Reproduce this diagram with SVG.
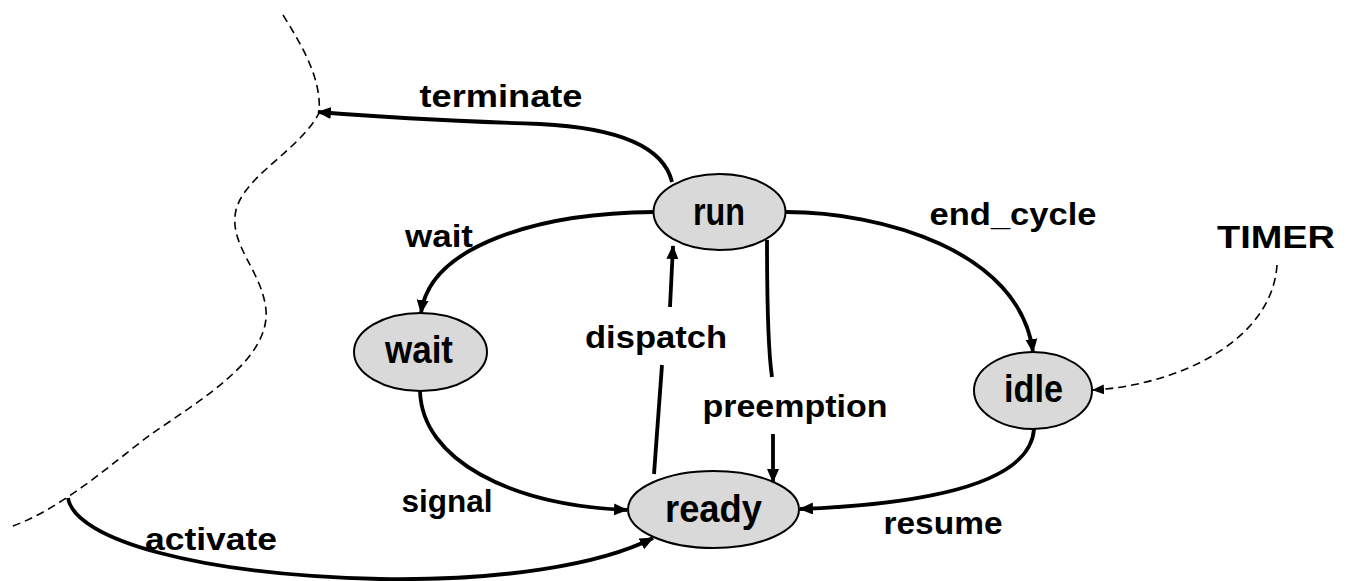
<svg xmlns="http://www.w3.org/2000/svg" width="1350" height="581" viewBox="0 0 1350 581">
<style>
.node ellipse{fill:#d9d9d9;stroke:#000;stroke-width:2}
.nl{font-family:"Liberation Sans",Arial,sans-serif;font-weight:bold;font-size:38px;fill:#000;text-anchor:middle}
.el{font-family:"Liberation Sans",Arial,sans-serif;font-weight:bold;font-size:32px;fill:#000;text-anchor:middle}
.edge{fill:none;stroke:#000;stroke-width:3.8}
.dash{fill:none;stroke:#000;stroke-width:1.6;stroke-dasharray:8 5}
</style>
<defs>
<marker id="ah" markerUnits="userSpaceOnUse" markerWidth="16" markerHeight="14" refX="13" refY="6" orient="auto">
<path d="M0,0 L14,6 L0,12 z" fill="#000"/>
</marker>
<marker id="ahs" markerUnits="userSpaceOnUse" markerWidth="14" markerHeight="12" refX="11" refY="5" orient="auto">
<path d="M0,0 L12,5 L0,10 z" fill="#000"/>
</marker>
</defs>
<g id="connectors">
<path class="dash" d="M283,15 C303,47 322,80 319,113 C300,150 245,175 236,210 C228,245 262,270 266,310 C270,360 200,400 150,435 C110,465 60,510 10,527"/>
<path class="edge" d="M672,182 C664,148 620,128 540,124 C450,121 380,117 318,112" marker-end="url(#ah)"/>
<path class="edge" d="M653,212 C540,213 430,245 421,313" marker-end="url(#ah)"/>
<path class="edge" d="M420,391 C422,460 510,505 627,510" marker-end="url(#ah)"/>
<path class="edge" d="M68,498 C75,540 200,575 380,579 C500,581 600,565 653,538" marker-end="url(#ah)"/>
<path class="edge" d="M654,474 L662,365"/>
<path class="edge" d="M670,307 L673,246" marker-end="url(#ah)"/>
<path class="edge" d="M767,240 C767,300 768,350 772,377"/>
<path class="edge" d="M773,434 L773,482" marker-end="url(#ah)"/>
<path class="edge" d="M786,212 C880,212 1020,250 1033,352" marker-end="url(#ah)"/>
<path class="dash" d="M1277,265 C1272,340 1180,385 1093,390" marker-end="url(#ahs)"/>
<path class="edge" d="M1034,429 C1030,490 900,505 800,509" marker-end="url(#ah)"/>
<text class="el" x="501" y="107" textLength="163" lengthAdjust="spacingAndGlyphs">terminate</text>
<text class="el" x="439" y="247" textLength="68" lengthAdjust="spacingAndGlyphs">wait</text>
<text class="el" x="1013" y="225" textLength="167" lengthAdjust="spacingAndGlyphs">end_cycle</text>
<text class="el" x="1276" y="248" textLength="118" lengthAdjust="spacingAndGlyphs">TIMER</text>
<text class="el" x="656" y="348" textLength="142" lengthAdjust="spacingAndGlyphs">dispatch</text>
<text class="el" x="795" y="417" textLength="185" lengthAdjust="spacingAndGlyphs">preemption</text>
<text class="el" x="447" y="512" textLength="91" lengthAdjust="spacingAndGlyphs">signal</text>
<text class="el" x="211" y="550" textLength="132" lengthAdjust="spacingAndGlyphs">activate</text>
<text class="el" x="943" y="534" textLength="119" lengthAdjust="spacingAndGlyphs">resume</text>
</g>
<g id="node-run" class="node">
<ellipse cx="719.5" cy="212" rx="66" ry="38"/>
<text class="nl" x="719" y="225" textLength="52" lengthAdjust="spacingAndGlyphs">run</text>
</g>
<g id="node-wait" class="node">
<ellipse cx="420.5" cy="352" rx="66.5" ry="39"/>
<text class="nl" x="419" y="363" textLength="68" lengthAdjust="spacingAndGlyphs">wait</text>
</g>
<g id="node-ready" class="node">
<ellipse cx="713.5" cy="509.5" rx="85.5" ry="38.5"/>
<text class="nl" x="713.5" y="522" textLength="97" lengthAdjust="spacingAndGlyphs">ready</text>
</g>
<g id="node-idle" class="node">
<ellipse cx="1033" cy="390.5" rx="59" ry="38.5"/>
<text class="nl" x="1033.5" y="402" textLength="59" lengthAdjust="spacingAndGlyphs">idle</text>
</g>
</svg>
